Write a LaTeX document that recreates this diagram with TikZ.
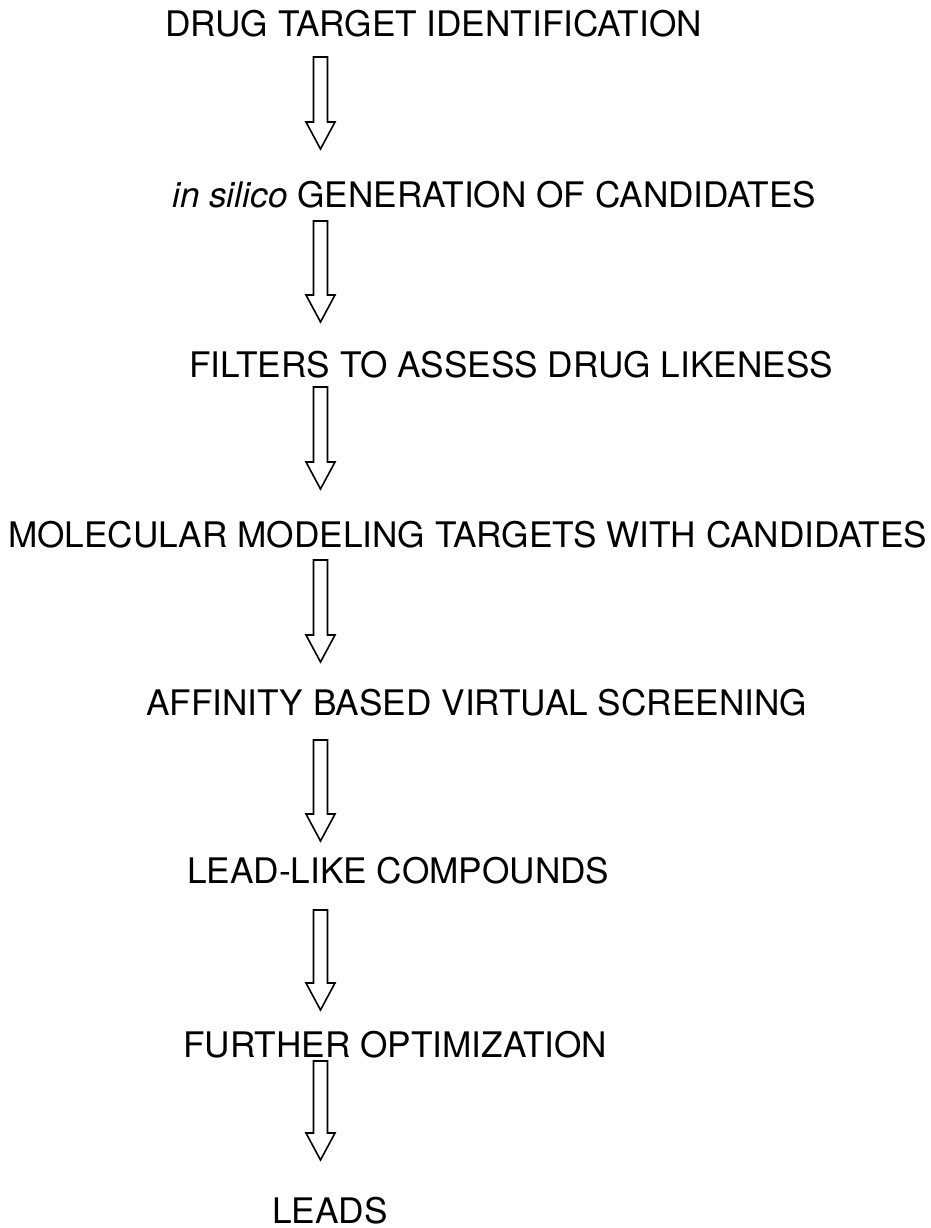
\documentclass[tikz,border=0pt]{standalone}
\usepackage{fontspec}
\setmainfont{TeX Gyre Heros}
\usepackage{tikz}
\usetikzlibrary{calc}

\tikzset{
  stage/.style={anchor=base west, inner sep=0pt, font=\fontsize{35.2}{42}\selectfont},
  hollow/.style={draw=black, line width=1.6pt, fill=white, line join=miter}
}

% hollow down arrow from coordinate #1 (top) to #2 (tip)
\newcommand{\flowarrow}[2]{%
  \draw[hollow] let \p1=(#1), \p2=(#2) in
    (\x1-7pt,\y1) -- (\x1+7pt,\y1) -- (\x1+7pt,\y2+27pt) -- (\x1+14.5pt,\y2+27pt)
    -- (\x1,\y2) -- (\x1-14.5pt,\y2+27pt) -- (\x1-7pt,\y2+27pt) -- cycle;}

\begin{document}
\begin{tikzpicture}[x=1pt, y=-1pt]
  \useasboundingbox (0,0) rectangle (930,1228);

  % Pipeline stages
  \node[stage] (target) at (165,37) {DRUG TARGET IDENTIFICATION};
  \node[stage] (insilico) at (172,207) {\textit{in silico} GENERATION OF CANDIDATES};
  \node[stage] (filters) at (189,377) {FILTERS TO ASSESS DRUG LIKENESS};
  \node[stage] (modeling) at (8,547) {MOLECULAR MODELING TARGETS WITH CANDIDATES};
  \node[stage] (affinity) at (146,715) {AFFINITY BASED VIRTUAL SCREENING};
  \node[stage] (leadlike) at (187,883) {LEAD-LIKE COMPOUNDS};
  \node[stage] (further) at (183,1057) {FURTHER OPTIMIZATION};
  \node[stage] (leads) at (272,1223) {LEADS};

  % Arrow end points
  \coordinate (a1) at (320.5,57);   \coordinate (b1) at (320.5,149);
  \coordinate (a2) at (320.5,221);  \coordinate (b2) at (320.5,322);
  \coordinate (a3) at (320.5,387);  \coordinate (b3) at (320.5,489);
  \coordinate (a4) at (320.5,560);  \coordinate (b4) at (320.5,662);
  \coordinate (a5) at (320.5,740);  \coordinate (b5) at (320.5,841);
  \coordinate (a6) at (320.5,910);  \coordinate (b6) at (320.5,1010);
  \coordinate (a7) at (320.5,1061); \coordinate (b7) at (320.5,1160);

  \foreach \i in {1,...,7} {
    \flowarrow{a\i}{b\i}
  }
\end{tikzpicture}
\end{document}
